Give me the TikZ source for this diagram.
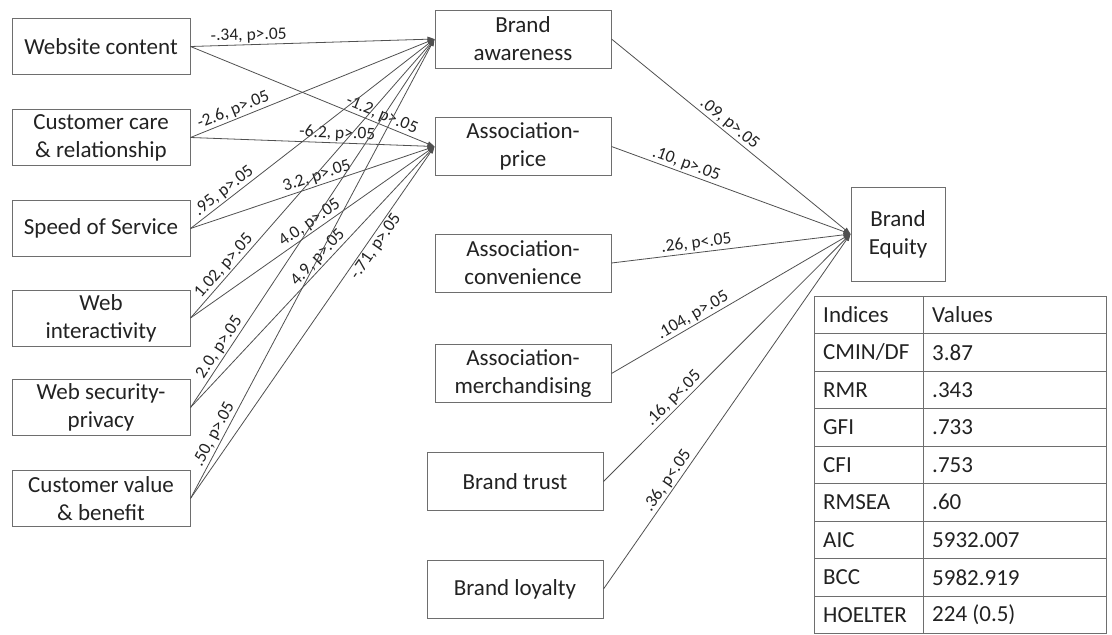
\documentclass[tikz,border=0pt]{standalone}
\usepackage{fontspec}
\setmainfont{Carlito}
\usetikzlibrary{arrows.meta}
\definecolor{boxline}{HTML}{6E6E6E}
\definecolor{pathline}{HTML}{505050}
\definecolor{ink}{HTML}{222222}
\begin{document}
\begin{tikzpicture}[x=1pt,y=-1pt,
  box/.style={draw=boxline, line width=1pt, fill=white, inner sep=0pt, align=center,
              text=ink, font=\fontsize{23}{28}\selectfont},
  lbox/.style={box, minimum width=178pt, minimum height=56pt},
  mbox/.style={box, minimum width=176pt, minimum height=58pt},
  link/.style={draw=pathline, line width=0.8pt, -{Triangle[length=7pt,width=5pt]}},
  coef/.style={font=\fontsize{17.5}{20}\selectfont, text=ink, sloped, inner sep=1.5pt},
  grid line/.style={draw=boxline, line width=1pt},
  cell/.style={anchor=west, inner sep=0pt, text=ink, font=\fontsize{23}{28}\selectfont},
]
\useasboundingbox (0,0) rectangle (1112,635);

% web experience factors
\node[lbox] (wc) at (101,46.5)  {Website content};
\node[lbox] (cc) at (101,137.5) {Customer care\\ \& relationship};
\node[lbox] (ss) at (101,228.5) {Speed of Service};
\node[lbox] (wi) at (101,318)   {Web\\ interactivity};
\node[lbox] (ws) at (101,407.5) {Web security-\\ privacy};
\node[lbox] (cv) at (101,498.5) {Customer value\\ \& benefit};

% brand equity dimensions
\node[mbox] (ba) at (523,39)    {Brand\\ awareness};
\node[mbox] (ap) at (523,146.5) {Association-\\ price};
\node[mbox] (ac) at (523,263)   {Association-\\ convenience};
\node[mbox] (am) at (523,373.5) {Association-\\ merchandising};
\node[mbox] (bt) at (515,481.5) {Brand trust};
\node[mbox] (bl) at (515,589)   {Brand loyalty};

% outcome
\node[box, minimum width=94pt, minimum height=94pt] (be) at (898,234) {Brand\\ Equity};

% paths into brand awareness and association-price
\draw[link] (wc.east) -- node[coef, pos=0.24, above] {-.34, p>.05} (ba.west);
\draw[link] (wc.east) -- node[coef, pos=0.77, above] {-1.2, p>.05} (ap.west);
\draw[link] (cc.east) -- node[coef, pos=0.19, above] {-2.6, p>.05} (ba.west);
\draw[link] (cc.east) -- node[coef, pos=0.60, above] {-6.2, p>.05} (ap.west);
\draw[link] (ss.east) -- node[coef, pos=0.16, above] {.95, p>.05} (ba.west);
\draw[link] (ss.east) -- node[coef, pos=0.53, above] {3.2, p>.05} (ap.west);
\draw[link] (wi.east) -- node[coef, pos=0.165, above] {1.02, p>.05} (ba.west);
\draw[link] (wi.east) -- node[coef, pos=0.51, above] {4.0, p>.05} (ap.west);
\draw[link] (ws.east) -- node[coef, pos=0.15, above] {2.0, p>.05} (ba.west);
\draw[link] (ws.east) -- node[coef, pos=0.55, above] {4.9, p>.05} (ap.west);
\draw[link] (cv.east) -- node[coef, pos=0.13, above] {.50, p>.05} (ba.west);
\draw[link] (cv.east) -- node[coef, pos=0.73, below] {-.71, p>.05} (ap.west);

% paths into brand equity
\draw[link] (ba.east) -- node[coef, pos=0.47, above] {.09, p>.05} (be.west);
\draw[link] (ap.east) -- node[coef, pos=0.30, above] {.10, p>.05} (be.west);
\draw[link] (ac.east) -- node[coef, pos=0.36, above] {.26, p<.05} (be.west);
\draw[link] (am.east) -- node[coef, pos=0.36, above] {.104, p>.05} (be.west);
\draw[link] (bt.east) -- node[coef, pos=0.31, above] {.16, p<.05} (be.west);
\draw[link] (bl.east) -- node[coef, pos=0.29, above] {.36, p<.05} (be.west);

% model fit table
\draw[grid line] (814,296) rectangle (1106,633.5);
\draw[grid line] (923,296) -- (923,633.5);
\foreach \y in {333.5,371,408.5,446,483.5,521,558.5,596}
  \draw[grid line] (814,\y) -- (1106,\y);

\node[cell] (i0) at (823,314.75) {Indices};   \node[cell] (v0) at (932,314.75) {Values};
\node[cell] (i1) at (823,352.25) {CMIN/DF};   \node[cell] (v1) at (932,352.25) {3.87};
\node[cell] (i2) at (823,389.75) {RMR};       \node[cell] (v2) at (932,389.75) {.343};
\node[cell] (i3) at (823,427.25) {GFI};       \node[cell] (v3) at (932,427.25) {.733};
\node[cell] (i4) at (823,464.75) {CFI};       \node[cell] (v4) at (932,464.75) {.753};
\node[cell] (i5) at (823,502.25) {RMSEA};     \node[cell] (v5) at (932,502.25) {.60};
\node[cell] (i6) at (823,539.75) {AIC};       \node[cell] (v6) at (932,539.75) {5932.007};
\node[cell] (i7) at (823,577.25) {BCC};       \node[cell] (v7) at (932,577.25) {5982.919};
\node[cell] (i8) at (823,614.75) {HOELTER};   \node[cell] (v8) at (932,614.75) {224 (0.5)};
\end{tikzpicture}
\end{document}
